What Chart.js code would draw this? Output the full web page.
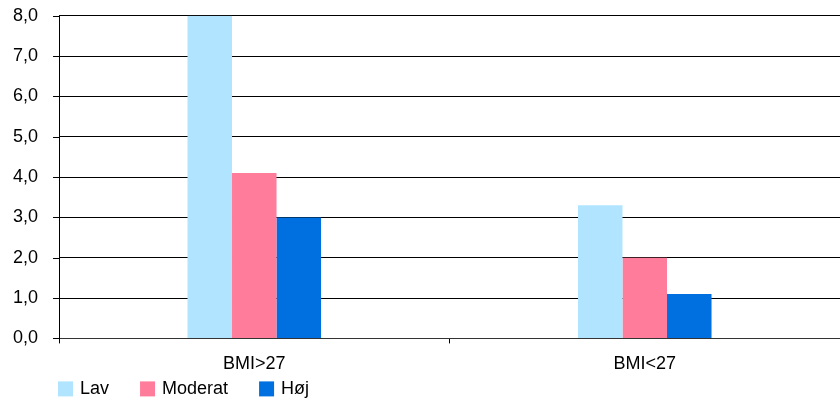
<!DOCTYPE html>
<html>
<head>
<meta charset="utf-8">
<script src="https://cdn.jsdelivr.net/npm/chart.js@4"></script>
<style>
    html, body { margin: 0; padding: 0; background: #fff; }
    #wrap { width: 840px; height: 398px; }
</style>
</head>
<body>
<div id="wrap"><canvas id="bmiChart"></canvas></div>
<script>
// Data
const categories = ['BMI>27', 'BMI<27'];
const seriesNames = ['Lav', 'Moderat', 'Høj'];
const lavValues = [8.0, 3.3];
const moderatValues = [4.1, 2.0];
const hojValues = [3.0, 1.1];
const yTicks = [0, 1, 2, 3, 4, 5, 6, 7, 8];

const seriesColors = ['#B0E4FF', '#FF7C9B', '#0070E0'];
const FONT = 'Liberation Sans, Arial, sans-serif';
const FONT_SIZE = 18;

// short tick marks left of the y axis + Excel-style legend at the bottom
const axisExtras = {
    id: 'axisExtras',
    afterDraw(chart) {
        const c = chart.ctx;
        const area = chart.chartArea;
        const yScale = chart.scales.y;
        c.save();
        c.strokeStyle = '#000';
        c.lineWidth = 1;
        c.beginPath();
        yTicks.forEach((v) => {
            const py = Math.round(yScale.getPixelForValue(v)) + 0.5;
            c.moveTo(area.left - 6, py);
            c.lineTo(area.left, py);
        });
        c.stroke();

        const box = 15, gap = 31;
        let x = area.left - 1;
        const top = area.bottom + 43;
        c.font = FONT_SIZE + 'px ' + FONT;
        c.textBaseline = 'alphabetic';
        c.textAlign = 'left';
        chart.data.datasets.forEach((ds) => {
            c.fillStyle = ds.backgroundColor;
            c.fillRect(x, top, box, box);
            c.fillStyle = '#000';
            c.fillText(ds.label, x + box + 7, top + 13);
            x += box + 7 + c.measureText(ds.label).width + gap;
        });
        c.restore();
    }
};

document.addEventListener('DOMContentLoaded', () => {
    const ctx = document.getElementById('bmiChart').getContext('2d');
    const series = [lavValues, moderatValues, hojValues];
    new Chart(ctx, {
        type: 'bar',
        data: {
            labels: categories,
            datasets: series.map((vals, i) => ({
                label: seriesNames[i],
                data: vals,
                backgroundColor: seriesColors[i],
                borderWidth: 0,
                barPercentage: 1,
                categoryPercentage: 0.342
            }))
        },
        options: {
            responsive: true,
            maintainAspectRatio: false,
            animation: false,
            layout: { padding: { top: 0, left: 8, right: 0, bottom: 13 } },
            plugins: {
                tooltip: { enabled: false },
                legend: { display: false }
            },
            scales: {
                x: {
                    offset: true,
                    grid: { display: true, drawOnChartArea: false, drawTicks: true, tickLength: 5, color: '#000', offset: true },
                    border: { display: true, color: '#333', width: 1 },
                    ticks: {
                        color: '#000',
                        padding: 10,
                        font: { family: FONT, size: FONT_SIZE }
                    }
                },
                y: {
                    min: 0,
                    max: 8,
                    afterBuildTicks: (scale) => { scale.ticks = yTicks.map(v => ({ value: v })); },
                    // tick space kept for label spacing; the marks are drawn by axisExtras
                    grid: { color: '#000', lineWidth: 1, tickLength: 16, tickColor: 'rgba(0,0,0,0)' },
                    border: { display: true, color: '#000', width: 1 },
                    ticks: {
                        color: '#000',
                        padding: 5,
                        font: { family: FONT, size: FONT_SIZE },
                        callback: (v) => Number(v).toFixed(1).replace('.', ',')
                    }
                }
            }
        },
        plugins: [axisExtras]
    });
});
</script>
</body>
</html>
